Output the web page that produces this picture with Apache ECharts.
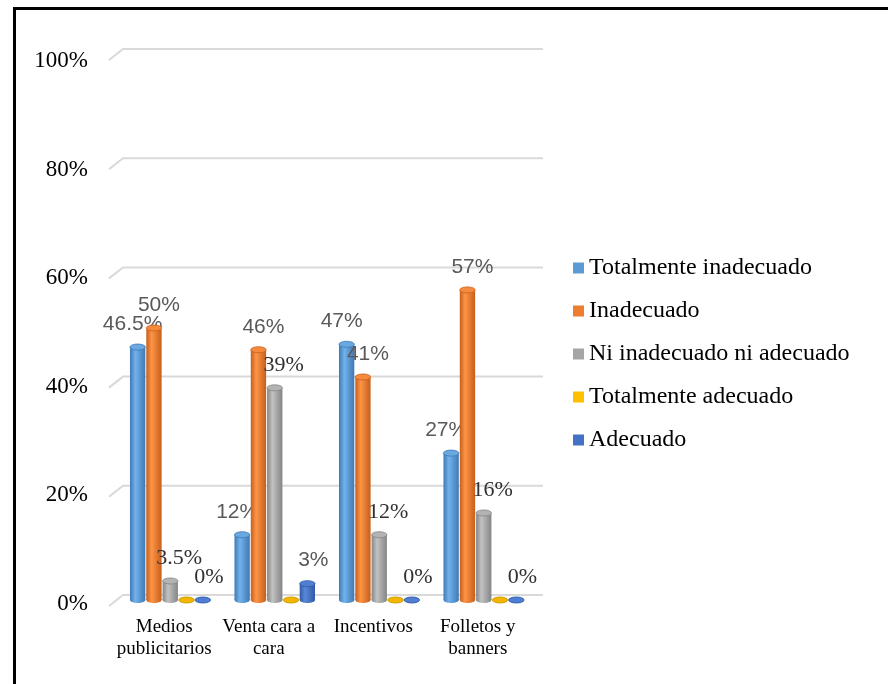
<!DOCTYPE html>
<html>
<head>
<meta charset="utf-8">
<script src="https://cdn.jsdelivr.net/npm/echarts@6/dist/echarts.min.js"></script>
<style>
  html, body { margin: 0; padding: 0; background: #fff; }
  #chart { width: 888px; height: 684px; }
  #frame { position: absolute; left: 13px; top: 7px; right: 0; bottom: 0;
           border-top: 3px solid #000; border-left: 3px solid #000; pointer-events: none; }
</style>
</head>
<body>
<div id="chart"></div>
<div id="frame"></div>
<script>
// Categories (line breaks as they wrap under the axis)
const categories = ['Medios\npublicitarios', 'Venta cara a\ncara', 'Incentivos', 'Folletos y\nbanners'];

// Series names
const seriesNames = [
  'Totalmente inadecuado',
  'Inadecuado',
  'Ni inadecuado ni adecuado',
  'Totalmente adecuado',
  'Adecuado'
];

// Values in percent, one array per series
const totalmenteInadecuado   = [46.5, 12, 47, 27];
const inadecuado             = [50, 46, 41, 57];
const niInadecuadoNiAdecuado = [3.5, 39, 12, 16];
const totalmenteAdecuado     = [0, 0, 0, 0];
const adecuado               = [0, 3, 0, 0];

// Y-axis ticks
const yTicks = [0, 20, 40, 60, 80, 100];

const seriesValues = [totalmenteInadecuado, inadecuado, niInadecuadoNiAdecuado, totalmenteAdecuado, adecuado];

const SANS = 'Liberation Sans';
const SERIF = 'Liberation Serif';

// Cylinder shading and label styling for each series
const palettes = [
  { base: '#5B9BD5', dark: '#3f79b3', light: '#72b2ec', top: '#6aa8e2',
    label: { dx: -5, family: SANS, size: 21, color: '#595959' } },
  { base: '#ED7D31', dark: '#c55f1c', light: '#ff9445', top: '#f58a3d',
    label: { dx: 5, family: SANS, size: 21, color: '#595959' } },
  { base: '#A5A5A5', dark: '#858585', light: '#c2c2c2', top: '#b3b3b3',
    label: { dx: 9, family: SERIF, size: 22, color: '#303030' } },
  { base: '#FFC000', dark: '#c99700', light: '#ffd035', top: '#f2b600',
    label: null },
  { base: '#4472C4', dark: '#2f5aa3', light: '#5a88da', top: '#4f7ed2',
    label: { dx: 6, family: SANS, size: 21, color: '#595959', zeroFamily: SERIF, zeroSize: 22, zeroColor: '#303030' } }
];

function barSeries(idx) {
  const pal = palettes[idx];
  return {
    type: 'custom',
    name: seriesNames[idx],
    xAxisIndex: 2,
    yAxisIndex: 2,
    itemStyle: { color: pal.base },
    data: seriesValues[idx].map((v, i) => [i, v]),
    encode: { x: 0, y: 1 },
    renderItem(params, api) {
      const ci = api.value(0);
      const v = api.value(1);
      const base = api.coord([ci, 0]);
      const top = api.coord([ci, v]);
      const band = api.size([1, 0])[0];
      const pitch = band * 0.156;
      const w = pitch * 0.94;
      const cx = base[0] + (idx - 2) * pitch;
      const ry = 3;
      const grad = {
        type: 'linear', x: 0, y: 0, x2: 1, y2: 0,
        colorStops: [
          { offset: 0, color: pal.dark },
          { offset: 0.35, color: pal.light },
          { offset: 1, color: pal.dark }
        ]
      };
      const children = [
        { type: 'ellipse', shape: { cx: cx, cy: base[1], rx: w / 2, ry: ry }, style: { fill: grad } },
        { type: 'rect', shape: { x: cx - w / 2, y: top[1], width: w, height: base[1] - top[1] }, style: { fill: grad } },
        { type: 'ellipse', shape: { cx: cx, cy: top[1], rx: w / 2, ry: ry },
          style: { fill: pal.top, stroke: pal.dark, lineWidth: 0.8 } }
      ];
      const lab = pal.label;
      if (lab) {
        const zero = v === 0 && lab.zeroFamily;
        children.push({
          type: 'text',
          style: {
            text: v + '%',
            x: cx + lab.dx,
            y: top[1] - 23,
            align: 'center',
            verticalAlign: 'middle',
            fontFamily: zero ? lab.zeroFamily : lab.family,
            fontSize: zero ? lab.zeroSize : lab.size,
            fill: zero ? lab.zeroColor : lab.color
          }
        });
      }
      return { type: 'group', children: children };
    }
  };
}

// Back-wall gridlines with their short floor-edge diagonals
const gridSeries = {
  type: 'custom',
  xAxisIndex: 0,
  yAxisIndex: 0,
  silent: true,
  data: yTicks.map(v => [0, v]),
  renderItem(params, api) {
    const v = api.value(1);
    const p = api.coord([0, v]);
    const q = api.coord([1, v]);
    return {
      type: 'polyline',
      shape: { points: [[p[0] - 14, p[1] + 11], p, q] },
      style: { stroke: '#d9d9d9', lineWidth: 2, fill: null }
    };
  }
};

const chart = echarts.init(document.getElementById('chart'), null, { renderer: 'canvas' });
chart.setOption({
  animation: false,
  backgroundColor: '#ffffff',
  grid: [
    { left: 123, right: 345, top: 49, bottom: 89 },   // back wall
    { left: 112, right: 358, top: 61, bottom: 80 },   // axis labels
    { left: 118, right: 352, top: 56, bottom: 84 }    // bars
  ],
  xAxis: [
    { gridIndex: 0, type: 'value', min: 0, max: 1, show: false },
    { gridIndex: 1, type: 'category', data: categories,
      axisLine: { show: false }, axisTick: { show: false }, splitLine: { show: false },
      axisLabel: { interval: 0, margin: 12, fontFamily: SERIF, fontSize: 19, lineHeight: 22, color: '#000' } },
    { gridIndex: 2, type: 'category', data: categories, show: false }
  ],
  yAxis: [
    { gridIndex: 0, type: 'value', min: 0, max: 100, show: false },
    { gridIndex: 1, type: 'value', min: 0, max: 100, interval: 20,
      axisLine: { show: false }, axisTick: { show: false }, splitLine: { show: false },
      axisLabel: { formatter: '{value}%', margin: 24, fontFamily: SERIF, fontSize: 23, color: '#000' } },
    { gridIndex: 2, type: 'value', min: 0, max: 100, show: false }
  ],
  legend: {
    orient: 'vertical',
    left: 573,
    top: 256,
    padding: 0,
    icon: 'rect',
    itemWidth: 11,
    itemHeight: 11,
    itemGap: 19,
    data: seriesNames,
    textStyle: { fontFamily: SERIF, fontSize: 24, lineHeight: 22, color: '#000' }
  },
  series: [gridSeries].concat(seriesNames.map((_, i) => barSeries(i)))
});
</script>
</body>
</html>
